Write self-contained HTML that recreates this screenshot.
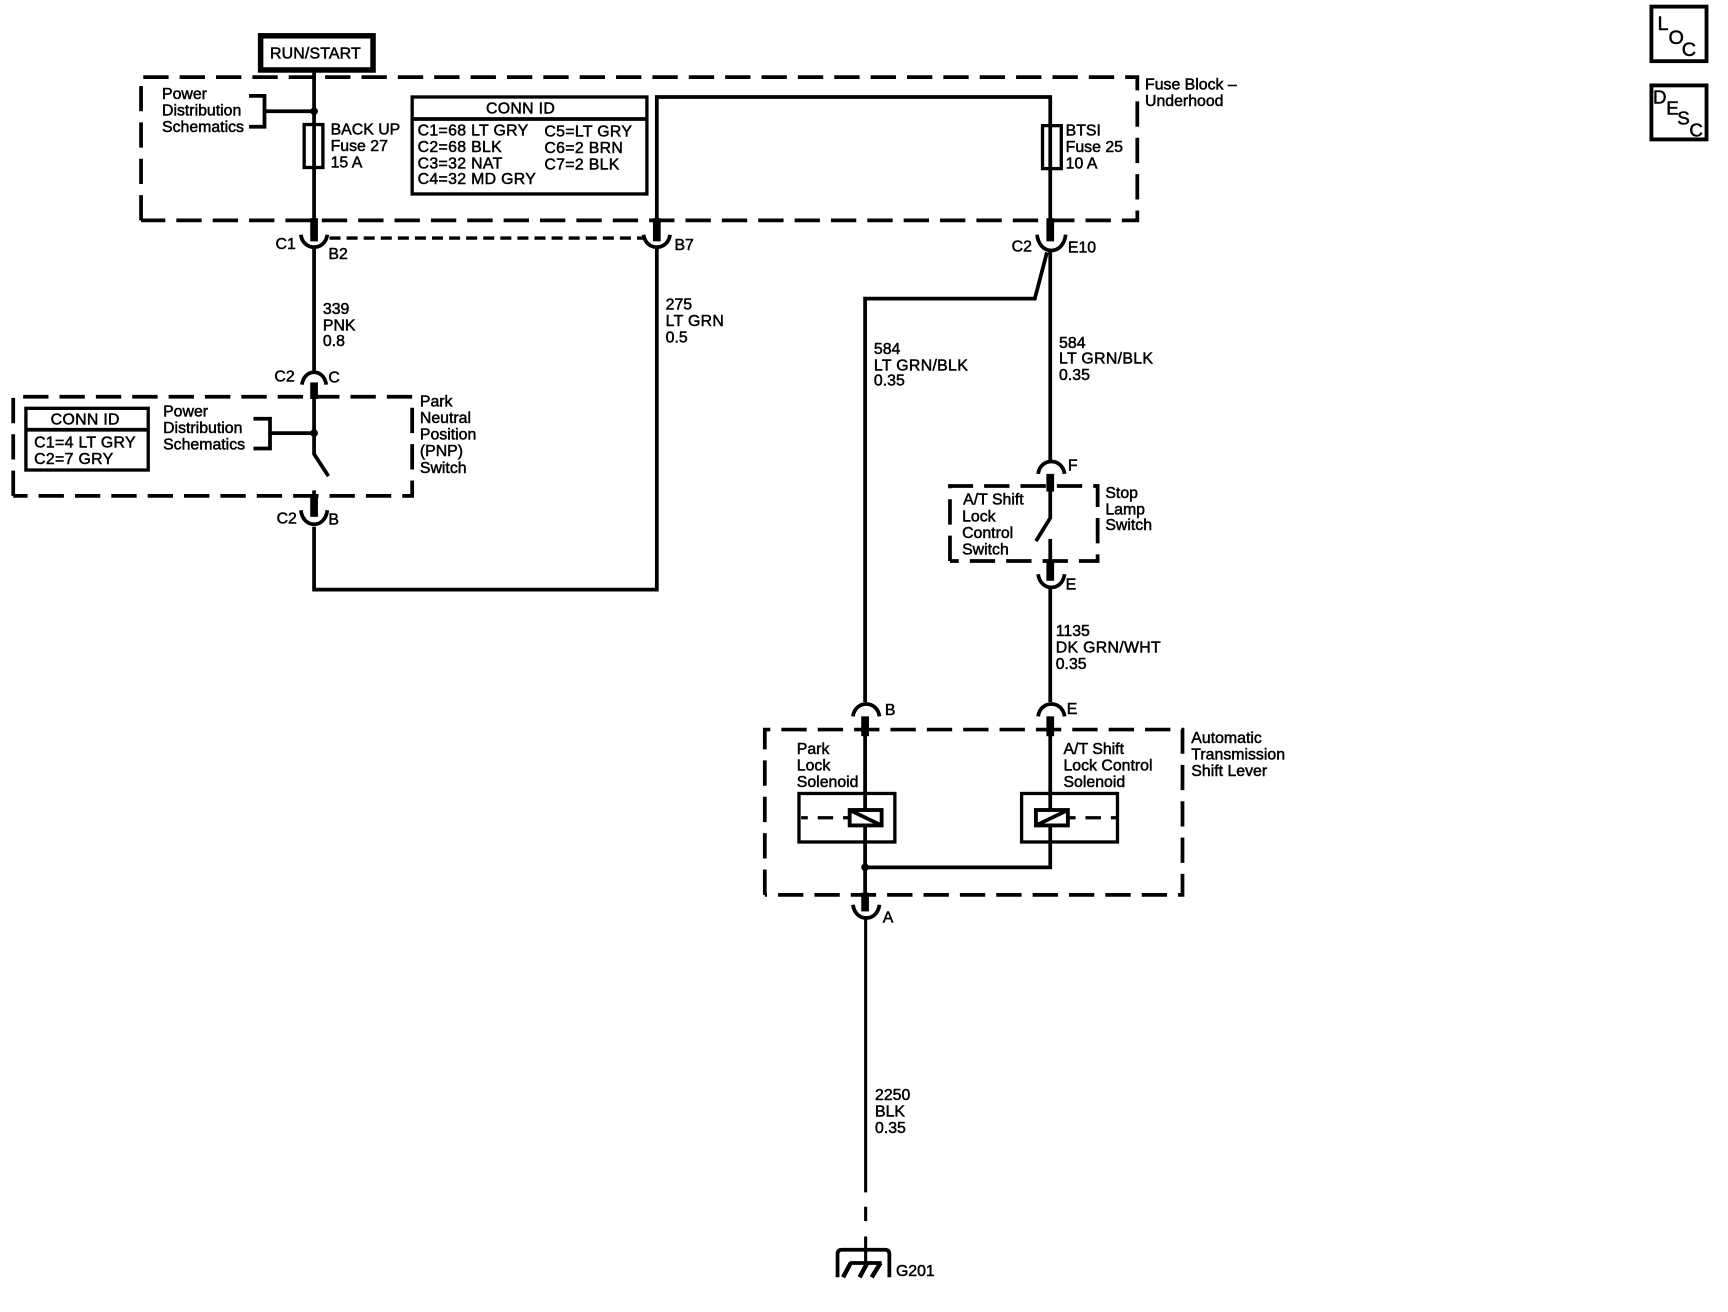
<!DOCTYPE html>
<html><head><meta charset="utf-8"><style>
html,body{margin:0;padding:0;background:#fff}
svg{display:block}
text{font-family:"Liberation Sans",sans-serif;font-size:14.4px;fill:#000;stroke:#000;stroke-width:.45px}
text.u{letter-spacing:.28px}
.n{fill:none;stroke:#000;stroke-width:2.8}
.t{fill:none;stroke:#000;stroke-width:7}
.d{fill:none;stroke:#000;stroke-width:3.4;stroke-dasharray:23 10}
.w{stroke-width:3.4;fill:none;stroke:#000}
.c{stroke-width:3.4;fill:none;stroke:#000}
</style></head><body>
<svg width="1728" height="1312" viewBox="0 0 1568 1190.500" preserveAspectRatio="none" xmlns="http://www.w3.org/2000/svg">
<rect width="1568" height="1191" fill="#fff"/>

<!-- LOC / DESC -->
<rect x="1498.500" y="6" width="50" height="49.500" fill="none" stroke="#000" stroke-width="3.500"/>
<text x="1504" y="27" style="font-size:18px">L</text><text x="1514" y="40" style="font-size:18px">O</text><text x="1526" y="51" style="font-size:18px">C</text>
<rect x="1498.500" y="77.500" width="50" height="49" fill="none" stroke="#000" stroke-width="3.500"/>
<text x="1500" y="94" style="font-size:17px">D</text><text x="1512" y="104" style="font-size:17px">E</text><text x="1522" y="113" style="font-size:17px">S</text><text x="1533" y="124" style="font-size:17px">C</text>

<!-- RUN/START -->
<rect x="236.500" y="32.500" width="102" height="31" fill="#fff" stroke="#000" stroke-width="5"/>
<text x="245" y="53" style="font-size:14.500px;letter-spacing:.1px">RUN/START</text>

<!-- Dashed boxes -->
<path class="d" d="M128 200V70H1032V200H128"/>
<path class="d" d="M12 450V360H374V450H12"/>
<path class="d" d="M862 509V441H996V509H862"/>
<path class="d" d="M694 812V662H1073V812H694"/>

<!-- Left wire -->
<path class="w" d="M285 65V200"/>
<circle cx="285" cy="101" r="3.500"/>
<path class="w" d="M226 87H240V115H226M240 101H285"/>
<rect x="276" y="113" width="17" height="39" fill="none" stroke="#000" stroke-width="3"/>
<path class="t" d="M285 198V219"/>
<path class="c" d="M273 213C275 228 295 228 297 213"/>
<path class="w" d="M285 224V337"/>
<path d="M299 216H584" fill="none" stroke="#000" stroke-width="3" stroke-dasharray="10 5.500"/>

<path class="w" d="M596 200V88H953V113"/>
<path class="t" d="M596 198V219"/>
<path class="c" d="M584 213C586 228 606 228 608 213"/>
<path class="w" d="M596 224V535H285V478"/>

<!-- Right fuse -->
<rect x="946" y="114" width="17" height="39" fill="none" stroke="#000" stroke-width="3"/>
<path class="w" d="M953 113V200"/>
<path class="t" d="M953 198V219"/>
<path class="c" d="M941 213C943 232 965 232 967 213"/>
<path class="w" d="M953 226V418"/>
<path class="w" d="M950 229L939 271H785V637"/>

<!-- PNP -->
<path class="c" d="M274 349C276 334 294 334 296 349"/>
<path class="t" d="M285 347V362"/>
<path class="w" d="M285 360V412L298 432"/>
<circle cx="285" cy="393" r="3.500"/>
<path class="w" d="M230 380H245V407H230M245 393H285"/>
<path class="w" d="M285 445V452"/>
<path class="t" d="M285 450V469"/>
<path class="c" d="M273 463C275 480 295 480 297 463"/>

<!-- Stop lamp switch -->
<path class="c" d="M942 430C944 415 964 415 966 430"/>
<path class="t" d="M953 430V446"/>
<path class="w" d="M953 444V470L940 491"/>
<path class="w" d="M953 489V512"/>
<path class="t" d="M953 510V527"/>
<path class="c" d="M942 521C944 537 964 537 966 521"/>
<path class="w" d="M953 533V637"/>

<!-- Caps above solenoids -->
<path class="c" d="M774 650C776 635 796 635 798 650"/>
<path class="c" d="M942 650C944 635 964 635 966 650"/>
<path class="t" d="M785 650V668"/>
<path class="t" d="M953 650V668"/>

<!-- Solenoids -->
<rect x="725" y="720" width="87" height="44" fill="none" stroke="#000" stroke-width="3"/>
<rect x="927" y="720" width="87" height="44" fill="none" stroke="#000" stroke-width="3"/>
<path class="w" d="M785 665V812"/>
<path class="w" d="M953 665V787H785"/>
<circle cx="785" cy="787" r="3.500"/>
<rect x="771" y="735" width="29" height="14" fill="#fff" stroke="#000" stroke-width="3.500"/>
<path class="w" d="M771 735L800 749"/>
<rect x="940" y="735" width="29" height="14" fill="#fff" stroke="#000" stroke-width="3.500"/>
<path class="w" d="M940 749L969 735"/>
<path d="M727 742H770" fill="none" stroke="#000" stroke-width="3" stroke-dasharray="6 9 14 9 6"/>
<path d="M970 742H1013" fill="none" stroke="#000" stroke-width="3" stroke-dasharray="6 9 14 9 6"/>
<path class="t" d="M785 810V827"/>
<path class="c" d="M774 821C776 837 796 837 798 821"/>

<!-- Ground -->
<path class="n" d="M785.500 834V1082M785.500 1095V1108M785.500 1122V1146"/>
<path class="w" d="M760 1159V1138Q760 1134 764 1134H803Q807 1134 807 1138V1159"/>
<path class="w" d="M771 1146H800"/>
<path d="M772 1146L765 1159M787 1146L780 1159M799 1146L791 1159" fill="none" stroke="#000" stroke-width="4"/>

<!-- CONN ID top -->
<rect x="374" y="88" width="213" height="88" fill="#fff" stroke="#000" stroke-width="3"/>
<path class="w" d="M374 108H587"/>
<text x="441" y="103" class="u">CONN ID</text>
<text x="379" y="123" class="u">C1=68 LT GRY</text>
<text x="379" y="138" class="u">C2=68 BLK</text>
<text x="379" y="153" class="u">C3=32 NAT</text>
<text x="379" y="167" class="u">C4=32 MD GRY</text>
<text x="494" y="124" class="u">C5=LT GRY</text>
<text x="494" y="139" class="u">C6=2 BRN</text>
<text x="494" y="154" class="u">C7=2 BLK</text>

<!-- CONN ID PNP -->
<rect x="23.500" y="370.500" width="111" height="56" fill="#fff" stroke="#000" stroke-width="3"/>
<path class="w" d="M23 390H135"/>
<text x="46" y="385" class="u">CONN ID</text>
<text x="31" y="406" class="u">C1=4 LT GRY</text>
<text x="31" y="421" class="u">C2=7 GRY</text>

<!-- Labels -->
<text x="147" y="90">Power</text><text x="147" y="105">Distribution</text><text x="147" y="120">Schematics</text>
<text x="300" y="122">BACK UP</text><text x="300" y="137">Fuse 27</text><text x="300" y="152">15 A</text>
<text x="967" y="123">BTSI</text><text x="967" y="138">Fuse 25</text><text x="967" y="153">10 A</text>
<text x="1039" y="81">Fuse Block –</text><text x="1039" y="96">Underhood</text>
<text x="250" y="226">C1</text><text x="298" y="235">B2</text><text x="612" y="227">B7</text>
<text x="918" y="228">C2</text><text x="969" y="229">E10</text>
<text x="293" y="285">339</text><text x="293" y="300">PNK</text><text x="293" y="314">0.8</text>
<text x="604" y="281">275</text><text x="604" y="296" class="u">LT GRN</text><text x="604" y="311">0.5</text>
<text x="793" y="321">584</text><text x="793" y="336" class="u">LT GRN/BLK</text><text x="793" y="350">0.35</text>
<text x="961" y="316">584</text><text x="961" y="330" class="u">LT GRN/BLK</text><text x="961" y="345">0.35</text>
<text x="249" y="346">C2</text><text x="298" y="347">C</text>
<text x="148" y="378">Power</text><text x="148" y="393">Distribution</text><text x="148" y="408">Schematics</text>
<text x="381" y="369">Park</text><text x="381" y="384">Neutral</text><text x="381" y="399">Position</text><text x="381" y="414">(PNP)</text><text x="381" y="429">Switch</text>
<text x="251" y="475">C2</text><text x="298" y="476">B</text>
<text x="969" y="427">F</text>
<text x="874" y="458">A/T Shift</text><text x="873" y="473">Lock</text><text x="873" y="488">Control</text><text x="873" y="503">Switch</text>
<text x="1003" y="452">Stop</text><text x="1003" y="467">Lamp</text><text x="1003" y="481">Switch</text>
<text x="967" y="535">E</text>
<text x="958" y="577">1135</text><text x="958" y="592" class="u">DK GRN/WHT</text><text x="958" y="607">0.35</text>
<text x="803" y="649">B</text><text x="968" y="648">E</text>
<text x="723" y="684">Park</text><text x="723" y="699">Lock</text><text x="723" y="714">Solenoid</text>
<text x="965" y="684">A/T Shift</text><text x="965" y="699">Lock Control</text><text x="965" y="714">Solenoid</text>
<text x="1081" y="674">Automatic</text><text x="1081" y="689">Transmission</text><text x="1081" y="704">Shift Lever</text>
<text x="801" y="837">A</text>
<text x="794" y="998">2250</text><text x="794" y="1013">BLK</text><text x="794" y="1028">0.35</text>
<text x="813" y="1158">G201</text>
</svg>
</body></html>
